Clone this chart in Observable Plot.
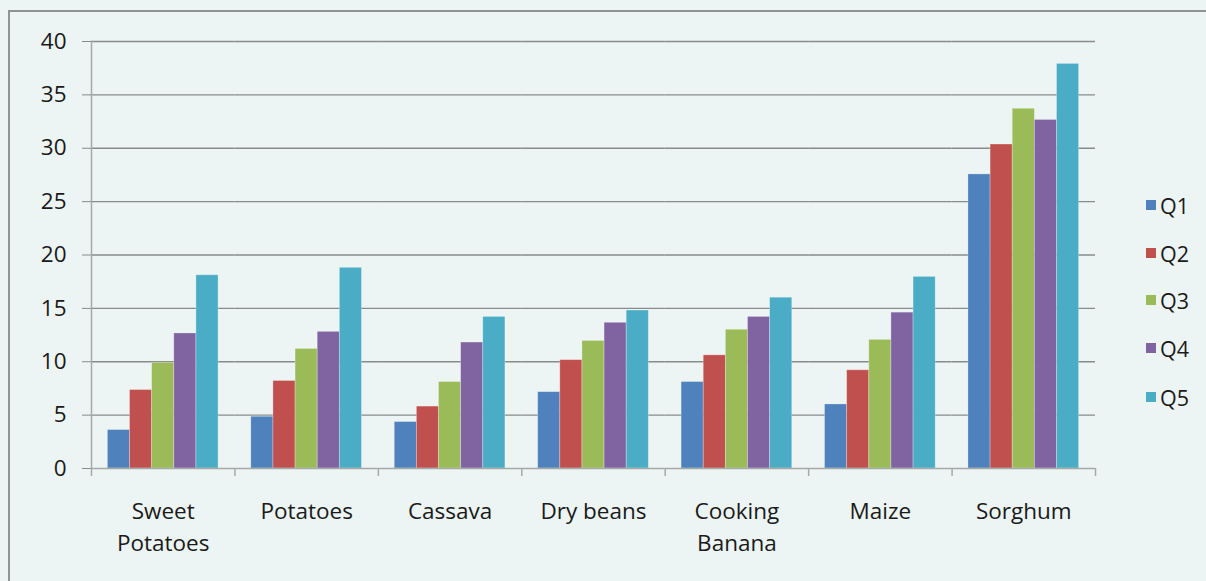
<!DOCTYPE html>
<html><head><meta charset="utf-8">
<script src="https://cdn.jsdelivr.net/npm/d3@7"></script>
<script src="https://cdn.jsdelivr.net/npm/@observablehq/plot@0.6"></script>
<style>
html,body{margin:0;padding:0;background:#ECF5F3;}
#wrap{position:relative;width:1206px;height:581px;overflow:hidden;background:#ECF5F3;font-family:"Open Sans",sans-serif;}
#border{position:absolute;left:8px;top:10px;width:1300px;height:700px;border-left:2.5px solid #8E9492;border-top:2.5px solid #8E9492;}
#chart{position:absolute;left:0;top:0;}
#legend{position:absolute;left:1146px;top:0;}
.item{position:absolute;left:0;display:flex;align-items:center;white-space:nowrap;font-size:21.5px;color:#1a1a1a;height:30px;}
.sw{width:10px;height:10px;margin-right:4px;}
</style></head><body>
<div id="wrap"><div id="border"></div><div id="chart"></div><div id="legend"></div></div>
<script>
const categories = ["Sweet Potatoes","Potatoes","Cassava","Dry beans","Cooking Banana","Maize","Sorghum"];
const categoryLabels = ["Sweet\nPotatoes","Potatoes","Cassava","Dry beans","Cooking\nBanana","Maize","Sorghum"];
const quarters = ["Q1","Q2","Q3","Q4","Q5"];
const q1 = [3.6, 4.85, 4.35, 7.15, 8.1, 6.0, 27.55];
const q2 = [7.35, 8.2, 5.8, 10.15, 10.6, 9.2, 30.35];
const q3 = [9.9, 11.2, 8.1, 11.95, 13.0, 12.05, 33.7];
const q4 = [12.65, 12.8, 11.8, 13.65, 14.2, 14.6, 32.65];
const q5 = [18.1, 18.8, 14.2, 14.8, 16.0, 17.95, 37.9];
const yTicks = [0, 5, 10, 15, 20, 25, 30, 35, 40];
const colors = ["#4F81BD", "#C0504D", "#9BBB59", "#8064A2", "#4BACC6"];

const series = [q1, q2, q3, q4, q5];
const rows = [];
categories.forEach((c, i) => quarters.forEach((q, j) => rows.push({category: c, quarter: q, value: series[j][i]})));

const W = 1206, H = 581, ml = 91, mr = 111, mt = 41, mb = 113;
const group = (W - ml - mr) / categories.length;
const gridColor = "#878B89", axisColor = "#A5AAA8", textColor = "#1a1a1a";

const chart = Plot.plot({
  width: W, height: H,
  marginLeft: ml, marginRight: mr, marginTop: mt, marginBottom: mb,
  style: {background: "transparent", fontFamily: "'Open Sans', sans-serif", fontSize: "22.5px", color: textColor, overflow: "visible"},
  fx: {domain: categories, paddingInner: 0, paddingOuter: 0, round: false, axis: null},
  x: {domain: quarters, paddingInner: 0, paddingOuter: 0.74, round: false, axis: null},
  y: {domain: [0, 40], axis: null},
  color: {domain: quarters, range: colors},
  marks: [
    Plot.gridY(yTicks.filter(v => v > 0), {stroke: gridColor, strokeOpacity: 1, strokeWidth: 1.3}),
    Plot.barY(rows, {fx: "category", x: "quarter", y: "value", fill: "quarter", stroke: "#ffffff", strokeOpacity: 0.35, strokeWidth: 0.8}),
    Plot.ruleY([0], {stroke: axisColor, strokeWidth: 1.5}),
    Plot.frame({anchor: "left", facetAnchor: "left", stroke: axisColor, strokeWidth: 1.5}),
    Plot.axisY(yTicks, {tickSize: 9, tickPadding: 16, stroke: gridColor, fill: textColor, label: null, fontSize: 22.5}),
    Plot.axisFx({anchor: "bottom", tickSize: 0, tickPadding: 28, lineHeight: 1.42, tickFormat: d => categoryLabels[categories.indexOf(d)], fill: textColor, label: null, fontSize: 22.5}),
    Plot.axisFx({anchor: "bottom", tickSize: 8, tickFormat: () => "", dx: -group / 2, stroke: axisColor, strokeWidth: 1.5, label: null}),
    Plot.axisFx({anchor: "bottom", ticks: [categories[categories.length - 1]], tickSize: 8, tickFormat: () => "", dx: group / 2, stroke: axisColor, strokeWidth: 1.5, label: null})
  ]
});
document.getElementById("chart").appendChild(chart);

const legendCenters = [205, 253, 300, 348, 397];
const legend = document.getElementById("legend");
quarters.forEach((q, i) => {
  const item = document.createElement("div");
  item.className = "item";
  item.style.top = (legendCenters[i] - 15) + "px";
  const sw = document.createElement("div");
  sw.className = "sw";
  sw.style.background = colors[i];
  const t = document.createElement("span");
  t.textContent = q;
  item.appendChild(sw);
  item.appendChild(t);
  legend.appendChild(item);
});
</script>
</body></html>
